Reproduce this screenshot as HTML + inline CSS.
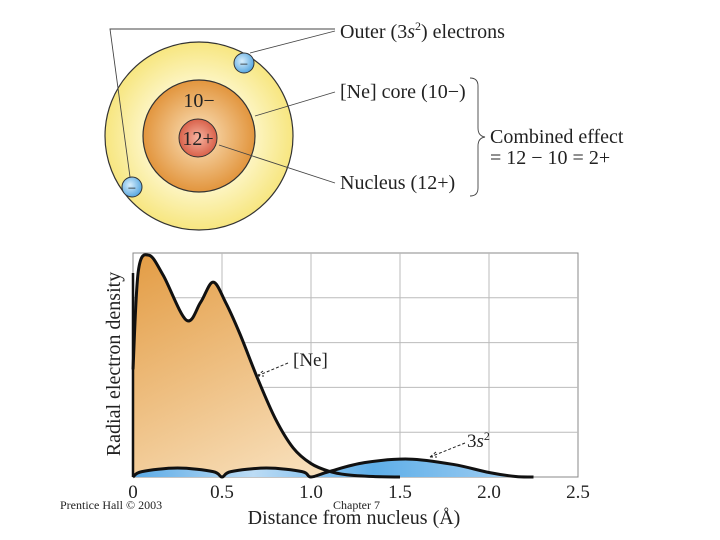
<!DOCTYPE html>
<html><head><meta charset="utf-8"><style>
body{margin:0;background:#fff;width:720px;height:540px;overflow:hidden}
svg{display:block}
text{font-family:"Liberation Serif",serif;fill:#222}
</style></head><body>
<svg width="720" height="540">
<defs>
<radialGradient id="gy" cx="50%" cy="50%" r="50%"><stop offset="0.55" stop-color="#fdf6c8"/><stop offset="1" stop-color="#f7e680"/></radialGradient>
<radialGradient id="go" cx="50%" cy="50%" r="50%"><stop offset="0" stop-color="#fbe3bf"/><stop offset="1" stop-color="#e2953d"/></radialGradient>
<radialGradient id="gr" cx="50%" cy="50%" r="50%"><stop offset="0" stop-color="#f6b3a0"/><stop offset="1" stop-color="#d9614a"/></radialGradient>
<radialGradient id="gb" cx="40%" cy="40%" r="60%"><stop offset="0" stop-color="#d8eefc"/><stop offset="1" stop-color="#5ba9e0"/></radialGradient>
<linearGradient id="fo" x1="0" y1="0" x2="0.6" y2="1"><stop offset="0" stop-color="#e39c44"/><stop offset="1" stop-color="#f8dfba"/></linearGradient>
<linearGradient id="fb" x1="0" y1="0" x2="1" y2="0"><stop offset="0" stop-color="#5aaae6"/><stop offset="0.3" stop-color="#bcdcf5"/><stop offset="0.6" stop-color="#5eaee8"/><stop offset="1" stop-color="#a8d2f3"/></linearGradient>
</defs>
<g>
<circle cx="199" cy="136" r="94" fill="url(#gy)" stroke="#333" stroke-width="1.2"/>
<circle cx="199" cy="136" r="56" fill="url(#go)" stroke="#333" stroke-width="1.2"/>
<circle cx="198" cy="138" r="19" fill="url(#gr)" stroke="#333" stroke-width="1"/>
<text x="199" y="107" font-size="20" text-anchor="middle">10−</text>
<text x="198" y="145" font-size="20" text-anchor="middle">12+</text>
<g><circle cx="244" cy="63" r="10" fill="url(#gb)" stroke="#333"/><text x="244" y="69" font-size="15" text-anchor="middle">−</text></g>
<g><circle cx="132" cy="187" r="10" fill="url(#gb)" stroke="#333"/><text x="132" y="193" font-size="15" text-anchor="middle">−</text></g>
<g stroke="#444" stroke-width="0.9" fill="none">
<path d="M335 29 L110 29 L130 177"/><path d="M335 31 L250 53"/>
<path d="M335 92 L255 116"/><path d="M335 183 L219 145"/>
<path d="M470 78 q8 0 8 8 v42 q0 8 7 9 q-7 1 -7 9 v42 q0 8 -8 8"/>
</g>
<text x="340" y="38" font-size="20">Outer (3<tspan font-style="italic">s</tspan><tspan font-size="12" dy="-8">2</tspan><tspan dy="8">) electrons</tspan></text>
<text x="340" y="98" font-size="20">[Ne] core (10−)</text>
<text x="340" y="189" font-size="20">Nucleus (12+)</text>
<text x="490" y="143" font-size="20">Combined effect</text>
<text x="490" y="164" font-size="20">= 12 − 10 = 2+</text>
</g>
<g id="chart"></g>
<text x="60" y="509" font-size="12">Prentice Hall © 2003</text>
<text x="333" y="509" font-size="12">Chapter 7</text>
</svg>
<script>
const xTicks=[0,0.5,1.0,1.5,2.0,2.5];
const xTickLabels=["0","0.5","1.0","1.5","2.0","2.5"];
const neX=[0,0.03,0.09,0.17,0.3,0.38,0.45,0.52,0.6,0.7,0.8,0.9,1.0,1.1,1.2,1.35,1.5];
const neY=[2.4,4.6,4.95,4.5,3.5,3.9,4.35,3.9,3.2,2.2,1.3,0.65,0.3,0.13,0.05,0.01,0];
const sX=[0,0.05,0.25,0.45,0.5,0.55,0.75,0.95,1.0,1.1,1.3,1.55,1.8,2.0,2.15,2.25];
const sY=[0,0.12,0.2,0.12,0,0.12,0.2,0.12,0,0.12,0.32,0.4,0.28,0.1,0.01,0];
const X0=133,X1=578,Y0=477,Y1=253;
const xs=v=>X0+v/2.5*(X1-X0), ys=v=>Y0-v/5*(Y0-Y1);
const NS="http://www.w3.org/2000/svg", g=document.getElementById('chart');
function mk(t,a){const e=document.createElementNS(NS,t);for(const k in a)e.setAttribute(k,a[k]);g.appendChild(e);return e;}
function smooth(X,Y){const p=X.map((x,i)=>[xs(x),ys(Y[i])]);let d="M"+p[0].join(" ");
for(let i=0;i<p.length-1;i++){const a=p[i-1]||p[i],b=p[i],c=p[i+1],e=p[i+2]||c;
d+=` C${b[0]+(c[0]-a[0])/6} ${b[1]+(c[1]-a[1])/6} ${c[0]-(e[0]-b[0])/6} ${c[1]-(e[1]-b[1])/6} ${c[0]} ${c[1]}`;}return d;}
const bg=mk('rect',{x:X0,y:Y1,width:X1-X0,height:Y0-Y1,fill:'#fff',stroke:'#888'});

for(let i=1;i<5;i++){const l=mk('line',{x1:X0,x2:X1,y1:ys(i),y2:ys(i),stroke:'#bbb'});
}
xTicks.forEach((t,i)=>{if(i>0&&i<5){const l=mk('line',{x1:xs(t),x2:xs(t),y1:Y1,y2:Y0,stroke:'#bbb'});
}
const tx=mk('text',{x:xs(t),y:498,'font-size':19,'text-anchor':'middle'});tx.textContent=xTickLabels[i];
});
const neD=smooth(neX,neY);
const neF=mk('path',{d:neD+` L${xs(neX[0])} ${Y0} Z`,fill:'url(#fo)'});

const sD=smooth(sX,sY);
const sF=mk('path',{d:sD+" Z",fill:'url(#fb)'});

const neL=mk('path',{d:neD,fill:'none',stroke:'#111','stroke-width':3});

const sL=mk('path',{d:sD,fill:'none',stroke:'#111','stroke-width':3});

const ax=mk('path',{d:`M${X0} ${Y1+20} V${Y0}`,stroke:'#111','stroke-width':2.5,fill:'none'});

const a1=mk('path',{d:'M288 363 L257 376 M257 376 l6 -5 M257 376 l7 0',stroke:'#222','stroke-dasharray':'3 2',fill:'none'});

const t1=mk('text',{x:293,y:366,'font-size':19});t1.textContent='[Ne]';

const a2=mk('path',{d:'M465 443 L430 457 M430 457 l6 -5 M430 457 l7 0',stroke:'#222','stroke-dasharray':'3 2',fill:'none'});

const t2=mk('text',{x:467,y:447,'font-size':19});t2.innerHTML='3<tspan font-style="italic">s</tspan><tspan font-size="12" dy="-7">2</tspan>';

const xt=mk('text',{x:354,y:524,'font-size':20,'text-anchor':'middle'});xt.textContent='Distance from nucleus (Å)';

const yt=mk('text',{x:0,y:0,'font-size':20,'text-anchor':'middle',transform:'translate(120,364) rotate(-90)'});yt.textContent='Radial electron density';

</script>
</body></html>
